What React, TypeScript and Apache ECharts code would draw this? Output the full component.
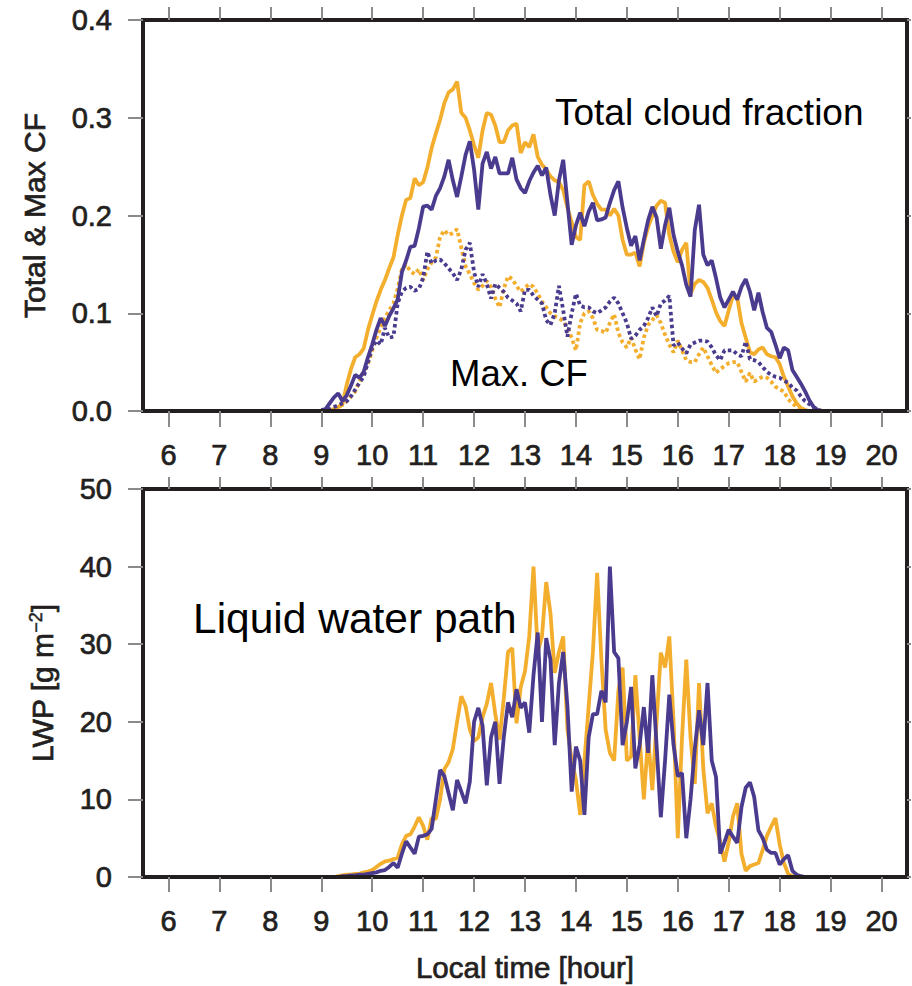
import React, { useEffect, useRef } from "react";
import * as echarts from "echarts";

// Time axis: samples every 5 minutes starting at 09:00 local time
const START_HOUR = 9;
const STEP_HOURS = 5 / 60;
const HOUR_TICKS = [6, 7, 8, 9, 10, 11, 12, 13, 14, 15, 16, 17, 18, 19, 20];

// Total cloud fraction (solid)
const totalCfOrange = [
  0, 0.001, 0.001, 0.002, 0.004, 0.007, 0.027, 0.043, 0.055, 0.058,
  0.064, 0.083, 0.098, 0.112, 0.124, 0.134, 0.146, 0.157, 0.18, 0.2,
  0.216, 0.218, 0.238, 0.231, 0.234, 0.249, 0.269, 0.284, 0.298, 0.315,
  0.326, 0.329, 0.337, 0.305, 0.3, 0.287, 0.272, 0.259, 0.287, 0.305,
  0.303, 0.292, 0.275, 0.275, 0.287, 0.292, 0.294, 0.264, 0.275, 0.27,
  0.283, 0.26, 0.252, 0.247, 0.24, 0.236, 0.234, 0.226, 0.208, 0.193,
  0.178, 0.175, 0.231, 0.235, 0.221, 0.212, 0.206, 0.206, 0.2, 0.207,
  0.2, 0.175, 0.16, 0.16, 0.162, 0.148, 0.172, 0.188, 0.2, 0.21,
  0.215, 0.213, 0.18, 0.163, 0.152, 0.165, 0.172, 0.12, 0.13, 0.134,
  0.132, 0.126, 0.114, 0.101, 0.092, 0.087, 0.103, 0.118, 0.116, 0.09,
  0.075, 0.06, 0.058, 0.063, 0.065, 0.058, 0.056, 0.055, 0.048, 0.035,
  0.025, 0.015, 0.008, 0.003, 0.001, 0, 0, 0, 0, 0, 0,
];
const totalCfPurple = [
  0.001, 0.002, 0.008, 0.014, 0.018, 0.01, 0.016, 0.026, 0.037, 0.034,
  0.04, 0.055, 0.068, 0.083, 0.095, 0.087, 0.097, 0.105, 0.114, 0.142,
  0.154, 0.168, 0.169, 0.187, 0.209, 0.21, 0.206, 0.22, 0.228, 0.24,
  0.257, 0.236, 0.219, 0.24, 0.262, 0.276, 0.247, 0.206, 0.253, 0.265,
  0.248, 0.26, 0.243, 0.243, 0.243, 0.259, 0.237, 0.228, 0.223, 0.235,
  0.244, 0.251, 0.241, 0.249, 0.221, 0.2, 0.236, 0.257, 0.213, 0.17,
  0.19, 0.203, 0.189, 0.204, 0.213, 0.195, 0.196, 0.198, 0.213, 0.226,
  0.235, 0.208, 0.187, 0.169, 0.179, 0.154, 0.175, 0.195, 0.209, 0.198,
  0.166, 0.19, 0.208, 0.18, 0.163, 0.149, 0.129, 0.117, 0.185, 0.211,
  0.16, 0.149, 0.154, 0.136, 0.116, 0.106, 0.114, 0.122, 0.114, 0.127,
  0.135, 0.122, 0.103, 0.121, 0.101, 0.085, 0.081, 0.068, 0.054, 0.065,
  0.062, 0.042, 0.035, 0.028, 0.02, 0.011, 0.004, 0.001, 0, 0, 0,
];

// Maximum cloud fraction (dotted)
const maxCfOrange = [
  0, 0, 0.001, 0.002, 0.004, 0.006, 0.01, 0.015, 0.02, 0.03,
  0.04, 0.048, 0.062, 0.075, 0.085, 0.095, 0.103, 0.11, 0.125, 0.145,
  0.15, 0.143, 0.14, 0.145, 0.134, 0.145, 0.152, 0.157, 0.178, 0.185,
  0.18, 0.182, 0.186, 0.167, 0.148, 0.14, 0.131, 0.124, 0.128, 0.133,
  0.127, 0.115, 0.106, 0.125, 0.138, 0.135, 0.128, 0.122, 0.126, 0.13,
  0.127, 0.12, 0.112, 0.106, 0.1, 0.097, 0.095, 0.092, 0.085, 0.075,
  0.062, 0.09, 0.1, 0.102, 0.095, 0.083, 0.082, 0.08, 0.09, 0.099,
  0.08, 0.07, 0.065, 0.075, 0.063, 0.053, 0.075, 0.088, 0.093, 0.098,
  0.09, 0.078, 0.068, 0.06, 0.072, 0.062, 0.052, 0.05, 0.05, 0.058,
  0.065, 0.056, 0.047, 0.039, 0.043, 0.046, 0.049, 0.05, 0.05, 0.04,
  0.03, 0.039, 0.03, 0.033, 0.035, 0.034, 0.03, 0.025, 0.022, 0.02,
  0.012, 0.008, 0.004, 0.001, 0, 0, 0, 0, 0, 0, 0,
];
const maxCfPurple = [
  0.001, 0.001, 0.002, 0.004, 0.006, 0.008, 0.01, 0.015, 0.022, 0.029,
  0.035, 0.05, 0.065, 0.072, 0.068, 0.085, 0.075, 0.076, 0.11, 0.122,
  0.126, 0.127, 0.123, 0.125, 0.136, 0.163, 0.151, 0.154, 0.155, 0.151,
  0.146, 0.141, 0.134, 0.145, 0.165, 0.172, 0.142, 0.127, 0.14, 0.13,
  0.115, 0.13, 0.126, 0.122, 0.116, 0.113, 0.11, 0.102, 0.124, 0.124,
  0.118, 0.114, 0.11, 0.093, 0.088, 0.1, 0.128, 0.103, 0.076, 0.1,
  0.12, 0.108, 0.106, 0.106, 0.102, 0.1, 0.103, 0.106, 0.112, 0.116,
  0.11, 0.1, 0.09, 0.074, 0.077, 0.083, 0.087, 0.095, 0.106, 0.097,
  0.11, 0.113, 0.118, 0.067, 0.07, 0.064, 0.059, 0.068, 0.07, 0.072,
  0.072, 0.071, 0.065, 0.057, 0.052, 0.062, 0.062, 0.062, 0.058, 0.056,
  0.071, 0.053, 0.052, 0.05, 0.045, 0.04, 0.037, 0.035, 0.034, 0.031,
  0.029, 0.024, 0.021, 0.015, 0.01, 0.007, 0.004, 0.001, 0, 0, 0,
];

// Liquid water path [g m-2]
const lwpOrange = [
  0, 0, 0, 0, 0.1, 0.2, 0.3, 0.3, 0.4, 0.4,
  0.6, 0.7, 0.9, 1.3, 1.7, 2.0, 2.1, 2.3, 2.5, 4.2,
  5.3, 5.5, 6.5, 7.7, 6.6, 4.8, 7.6, 7.5, 10, 13.9,
  14.8, 16.5, 20, 23.3, 22, 19, 17.5, 18, 20.6, 22.3,
  25, 21, 17.7, 23, 29, 29.5, 19.8, 24.5, 26.5, 31,
  40, 29, 31, 38, 34, 26.3, 29, 31, 19, 15,
  12.5, 8, 15, 22, 29, 39.2, 28, 19, 16, 15,
  24, 27, 15, 15.5, 26, 18, 10, 18, 11.2, 20,
  28.9, 27, 31, 20, 5, 18, 28, 18, 12, 25,
  14, 8.2, 9.5, 6.5, 4.5, 2, 4.5, 7.8, 9.5, 3,
  0.8, 1.4, 1.6, 1.8, 3.5, 5.3, 6.5, 7.6, 4.2, 1.8,
  0.4, 0.1, 0, 0, 0, 0, 0, 0, 0, 0, 0,
];
const lwpPurple = [
  0, 0, 0, 0, 0, 0.1, 0.1, 0.2, 0.2, 0.3,
  0.3, 0.4, 0.5, 0.6, 0.8, 0.9, 1.3, 1.8, 1.2, 3,
  4.6, 3.8, 3, 5.2, 5.3, 5.5, 6.2, 10, 13.8, 13,
  10.8, 8.6, 12.5, 11, 9.5, 12.3, 20, 21.8, 19.5, 11.8,
  18, 20, 12, 18, 22.5, 20.6, 24.2, 21.8, 22.5, 18.6,
  26, 31.5, 20, 30.8, 28, 17, 25, 29, 22, 11,
  16.8, 15, 8, 18, 21, 21, 24, 22.5, 40, 29,
  28.2, 17, 20, 24.5, 14, 17, 21.9, 16, 26, 17,
  7.7, 15, 23.5, 17, 13, 13.4, 5, 10, 16.5, 21.5,
  17, 25, 15, 12.9, 3, 4.5, 6.1, 5.2, 4.4, 9,
  11.5, 12.2, 10.3, 6, 5, 3.5, 3.1, 3.1, 1.6, 2.3,
  2.8, 0.8, 0.3, 0.1, 0, 0, 0, 0, 0, 0, 0,
];

const ORANGE = "#F4AE2E";
const PURPLE = "#4B3B8E";
const FRAME = "#231f20";
const TICK = "#8a8a8a";
const FONT = '"Liberation Sans", Arial, Helvetica, sans-serif';

function pairs(vals: number[]) {
  return vals.map((v, i) => [START_HOUR + i * STEP_HOURS, v]);
}

export default function App() {
  const ref = useRef<HTMLDivElement>(null);

  useEffect(() => {
    if (!ref.current) return;
    const chart = echarts.init(ref.current, undefined, { renderer: "svg" });

    const axisLine = {
      show: true,
      onZero: false,
      lineStyle: { color: FRAME, width: 4, cap: "square" },
    };
    const labelStyle = {
      fontSize: 29,
      fontFamily: FONT,
      color: FRAME,
      textBorderColor: FRAME,
      textBorderWidth: 0.7,
    };
    const xBase = (gridIndex: number, pos: "top" | "bottom", withLabels: boolean, tickLen: number) => ({
      type: "value",
      gridIndex,
      position: pos,
      min: 5.5,
      max: 20.5,
      z: 5,
      axisLine,
      splitLine: { show: false },
      axisTick: {
        show: true,
        inside: false,
        length: tickLen,
        customValues: HOUR_TICKS,
        lineStyle: { color: TICK, width: 2 },
      },
      axisLabel: {
        show: withLabels,
        customValues: HOUR_TICKS,
        margin: 29,
        ...labelStyle,
        formatter: (v: number) => String(v),
      },
    });
    const yBase = (gridIndex: number, pos: "left" | "right", max: number, interval: number, withLabels: boolean, tickLen: number, fmt: (v: number) => string) => ({
      type: "value",
      gridIndex,
      position: pos,
      min: 0,
      max,
      interval,
      z: 5,
      axisLine,
      splitLine: { show: false },
      axisTick: {
        show: true,
        inside: false,
        length: tickLen,
        lineStyle: { color: TICK, width: 2 },
      },
      axisLabel: {
        show: withLabels,
        margin: 31,
        ...labelStyle,
        formatter: fmt,
      },
    });

    const line = (data: number[], color: string, dotted: boolean, xi: number, yi: number) => ({
      type: "line",
      xAxisIndex: xi,
      yAxisIndex: yi,
      data: pairs(data),
      showSymbol: false,
      symbol: "none",
      lineStyle: {
        color,
        width: 3.8,
        type: dotted ? [3.5, 3] : "solid",
      },
      z: 2,
    });

    const yTop: any = yBase(0, "left", 0.4, 0.1, true, 15, (v: number) => v.toFixed(1));
    yTop.name = "Total & Max CF";
    yTop.nameLocation = "middle";
    yTop.nameGap = 94;
    yTop.nameTextStyle = { ...labelStyle, fontSize: 30 };

    const yBot: any = yBase(1, "left", 50, 10, true, 15, (v: number) => String(v));
    yBot.name = "LWP [g m{sup|−2}]";
    yBot.nameLocation = "middle";
    yBot.nameGap = 86;
    yBot.nameTextStyle = {
      ...labelStyle,
      fontSize: 30,
      rich: {
        sup: { fontSize: 18, fontFamily: FONT, color: FRAME, textBorderColor: FRAME, textBorderWidth: 0.5, verticalAlign: "top" },
      },
    };

    const xBot: any = xBase(1, "bottom", true, 15);
    xBot.name = "Local time [hour]";
    xBot.nameLocation = "middle";
    xBot.nameGap = 75;
    xBot.nameTextStyle = { ...labelStyle, fontSize: 29.5 };

    chart.setOption({
      animation: false,
      backgroundColor: "#ffffff",
      grid: [
        { left: 143, top: 20, width: 764, height: 391 },
        { left: 143, top: 489, width: 764, height: 388 },
      ],
      xAxis: [
        xBase(0, "bottom", true, 16),
        xBase(0, "top", false, 13),
        xBot,
        xBase(1, "top", false, 12),
      ],
      yAxis: [
        yTop,
        yBase(0, "right", 0.4, 0.1, false, 4, (v: number) => v.toFixed(1)),
        yBot,
        yBase(1, "right", 50, 10, false, 4, (v: number) => String(v)),
      ],
      series: [
        line(totalCfOrange, ORANGE, false, 0, 0),
        line(maxCfOrange, ORANGE, true, 0, 0),
        line(totalCfPurple, PURPLE, false, 0, 0),
        line(maxCfPurple, PURPLE, true, 0, 0),
        line(lwpOrange, ORANGE, false, 2, 2),
        line(lwpPurple, PURPLE, false, 2, 2),
      ],
      graphic: [
        {
          type: "text",
          x: 555,
          y: 112,
          z: 10,
          style: { text: "Total cloud fraction", fontSize: 37, fontFamily: FONT, fill: "#000", align: "left", verticalAlign: "middle" },
        },
        {
          type: "text",
          x: 450,
          y: 373,
          z: 10,
          style: { text: "Max. CF", fontSize: 36.5, fontFamily: FONT, fill: "#000", align: "left", verticalAlign: "middle" },
        },
        {
          type: "text",
          x: 193,
          y: 618,
          z: 10,
          style: { text: "Liquid water path", fontSize: 42.5, fontFamily: FONT, fill: "#000", align: "left", verticalAlign: "middle" },
        },
      ],
    });

    return () => chart.dispose();
  }, []);

  return (
    <div
      ref={ref}
      style={{ position: "fixed", left: 0, top: 0, width: 912, height: 986, background: "#fff" }}
    />
  );
}
